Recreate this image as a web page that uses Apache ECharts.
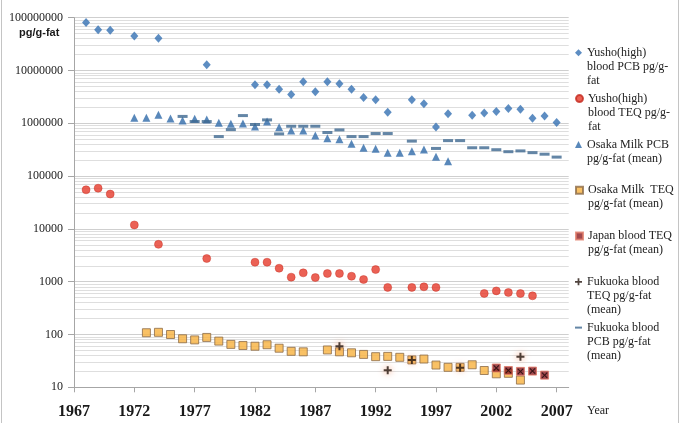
<!DOCTYPE html>
<html>
<head>
<meta charset="utf-8">
<script src="https://cdn.jsdelivr.net/npm/echarts@6/dist/echarts.min.js"></script>
<style>
  html, body { margin: 0; padding: 0; background: #fff; }
  #chart { width: 682px; height: 423px; }
</style>
</head>
<body>
<div id="chart"></div>
<script>
// x axis tick labels
var yearTicks = [1967, 1972, 1977, 1982, 1987, 1992, 1997, 2002, 2007];

// Yusho (high) blood PCB pg/g-fat
var yushoPcbYears = [1968, 1969, 1970, 1972, 1974, 1978, 1982, 1983, 1984, 1985, 1986, 1987, 1988, 1989, 1990, 1991, 1992, 1993, 1995, 1996, 1997, 1998, 2000, 2001, 2002, 2003, 2004, 2005, 2006, 2007];
var yushoPcb = [81000000, 59000000, 58000000, 45000000, 40600000, 12800000, 5400000, 5400000, 4400000, 3500000, 6100000, 3940000, 6100000, 5600000, 4400000, 3070000, 2780000, 1620000, 2800000, 2340000, 850000, 1510000, 1420000, 1570000, 1670000, 1900000, 1850000, 1250000, 1370000, 1030000];

// Yusho (high) blood TEQ pg/g-fat
var yushoTeqYears = [1968, 1969, 1970, 1972, 1974, 1978, 1982, 1983, 1984, 1985, 1986, 1987, 1988, 1989, 1990, 1991, 1992, 1993, 1995, 1996, 1997, 2001, 2002, 2003, 2004, 2005];
var yushoTeq = [55000, 59000, 45700, 11900, 5100, 2750, 2340, 2340, 1800, 1220, 1470, 1200, 1430, 1430, 1270, 1100, 1700, 780, 780, 800, 780, 600, 670, 625, 598, 540];

// Osaka milk PCB pg/g-fat (mean)
var osakaPcbYears = [1972, 1973, 1974, 1975, 1976, 1977, 1978, 1979, 1980, 1981, 1982, 1983, 1984, 1985, 1986, 1987, 1988, 1989, 1990, 1991, 1992, 1993, 1994, 1995, 1996, 1997, 1998];
var osakaPcb = [1270000, 1270000, 1450000, 1230000, 1130000, 1220000, 1180000, 1020000, 980000, 990000, 870000, 1080000, 840000, 730000, 730000, 590000, 520000, 500000, 410000, 344000, 330000, 276000, 276000, 297000, 320000, 233000, 192000];

// Osaka milk TEQ pg/g-fat (mean)
var osakaTeqYears = [1973, 1974, 1975, 1976, 1977, 1978, 1979, 1980, 1981, 1982, 1983, 1984, 1985, 1986, 1988, 1989, 1990, 1991, 1992, 1993, 1994, 1995, 1996, 1997, 1998, 1999, 2000, 2001, 2002, 2003, 2004];
var osakaTeq = [108, 110, 100, 83, 79, 88, 75, 65, 62, 60, 64, 55, 48, 47, 51, 47, 45, 42, 38, 38.5, 37, 33, 34.3, 26.4, 23.9, 23.9, 26.7, 20.8, 18, 18.4, 13.7];

// Japan blood TEQ pg/g-fat (mean)
var japanTeqYears = [2002, 2003, 2004, 2005, 2006];
var japanTeq = [23.2, 20.8, 20, 20.3, 17];

// Fukuoka blood TEQ pg/g-fat (mean)
var fukuokaTeqYears = [1989, 1993, 1995, 1999, 2004];
var fukuokaTeq = [60, 21, 33, 23.5, 38];

// Fukuoka blood PCB pg/g-fat (mean)
var fukuokaPcbYears = [1976, 1977, 1978, 1979, 1980, 1981, 1982, 1983, 1984, 1985, 1986, 1987, 1988, 1989, 1990, 1991, 1992, 1993, 1995, 1997, 1998, 1999, 2000, 2001, 2002, 2003, 2004, 2005, 2006, 2007];
var fukuokaPcb = [1350000, 1080000, 1080000, 560000, 760000, 1400000, 950000, 1160000, 630000, 880000, 880000, 880000, 670000, 750000, 560000, 560000, 640000, 640000, 460000, 334000, 470000, 470000, 344000, 344000, 316000, 290000, 300000, 278000, 260000, 229000];

// light grid lines inside each decade
var minorGrid = [];
[10, 100, 1000, 10000, 100000, 1000000, 10000000].forEach(function (d) {
  for (var m = 2; m <= 9; m++) minorGrid.push({ yAxis: m * d });
});

var names = [
  'Yusho(high) blood PCB pg/g-fat',
  'Yusho(high) blood TEQ pg/g-fat',
  'Osaka Milk PCB pg/g-fat (mean)',
  'Osaka Milk  TEQ pg/g-fat (mean)',
  'Japan blood TEQ pg/g-fat (mean)',
  'Fukuoka blood TEQ pg/g-fat (mean)',
  'Fukuoka blood PCB pg/g-fat (mean)'
];
var legendText = [
  ['Yusho(high)', 'blood PCB pg/g-', 'fat'],
  ['Yusho(high)', 'blood TEQ pg/g-', 'fat'],
  ['Osaka Milk PCB', 'pg/g-fat (mean)'],
  ['Osaka Milk  TEQ', 'pg/g-fat (mean)'],
  ['Japan blood TEQ', 'pg/g-fat (mean)'],
  ['Fukuoka blood', 'TEQ pg/g-fat', '(mean)'],
  ['Fukuoka blood', 'PCB pg/g-fat', '(mean)']
];

function pairs(xs, ys) {
  return xs.map(function (x, i) { return [x, ys[i]]; });
}

var plusPath = 'path://M3,0H5V3H8V5H5V8H3V5H0V3H3Z';
var crossPath = 'path://M0,1L1,0L4,3L7,0L8,1L5,4L8,7L7,8L4,5L1,8L0,7L3,4Z';
var serif = '"Liberation Serif", "DejaVu Serif", serif';

// one legend per entry; a spacer line keeps the marker level with the first text line
var lineH = 14;
var legendCenters = [52.5, 98.3, 144.1, 189.9, 235.7, 281.5, 327.3];
var legends = names.map(function (n, i) {
  var lines = legendText[i];
  var sp = (lines.length - 1) * lineH;
  var h = sp + lines.length * lineH;
  var nudge = lines.length === 3 ? 8.3 : 1.3;
  return {
    left: 575,
    top: legendCenters[i] - h / 2 + nudge,
    orient: 'vertical',
    padding: 0,
    itemGap: 0,
    itemWidth: 7,
    itemHeight: i === 6 ? 2 : 7,
    data: [n],
    formatter: function () {
      return '{sp| }\n' + lines.map(function (t) { return '{t|' + t + '}'; }).join('\n');
    },
    textStyle: {
      fontFamily: serif, fontSize: 12, color: '#222',
      rich: {
        sp: { lineHeight: sp, fontSize: 12, fontFamily: serif },
        t: { lineHeight: lineH, fontSize: 12, fontFamily: serif, color: '#222' }
      }
    }
  };
});

var chart = echarts.init(document.getElementById('chart'));
var option = {
  backgroundColor: '#fff',
  animation: false,
  legend: legends,
  grid: { left: 74, right: 113.3, top: 17.7, bottom: 35.7 },
  xAxis: {
    type: 'value',
    min: 1967,
    max: 2008,
    splitLine: { show: false },
    axisLine: { lineStyle: { color: '#a6a6a6' } },
    axisTick: { customValues: yearTicks, length: 5, lineStyle: { color: '#a6a6a6' } },
    axisLabel: {
      customValues: yearTicks,
      margin: 17,
      fontFamily: serif,
      fontSize: 16,
      fontWeight: 'bold',
      color: '#1a1a1a',
      formatter: function (v) { return String(v); }
    }
  },
  yAxis: {
    type: 'log',
    logBase: 10,
    min: 10,
    max: 100000000,
    axisLine: { show: true, lineStyle: { color: '#a6a6a6' } },
    axisTick: { show: true, length: 6, lineStyle: { color: '#a6a6a6' } },
    splitLine: { lineStyle: { color: '#cfcfcf' } },
    axisLabel: {
      margin: 11,
      fontFamily: serif,
      fontSize: 12,
      color: '#1a1a1a',
      formatter: function (v) { return String(Math.round(v)); }
    }
  },
  graphic: [
    { type: 'rect', silent: true, shape: { x: 1.5, y: -2, width: 677, height: 428 },
      style: { fill: 'none', stroke: '#c4c4c4', lineWidth: 1 } },
    { type: 'text', left: 19, top: 27,
      style: { text: 'pg/g-fat', font: 'bold 11px "Liberation Sans", Arial, sans-serif', fill: '#1a1a1a' } },
    { type: 'text', left: 587, top: 405,
      style: { text: 'Year', font: '12px ' + serif, fill: '#1a1a1a' } }
  ],
  series: [
    {
      name: '_grid', type: 'line', data: [], silent: true, z: 0,
      markLine: {
        silent: true, symbol: 'none', label: { show: false }, z: 0,
        lineStyle: { color: '#dedede', type: 'solid', width: 1 },
        data: minorGrid
      }
    },
    {
      name: names[0], type: 'scatter', symbol: 'diamond', symbolSize: [8, 9],
      itemStyle: { color: '#3571b3' },
      data: pairs(yushoPcbYears, yushoPcb)
    },
    {
      name: names[1], type: 'scatter', symbol: 'circle', symbolSize: 8,
      itemStyle: { color: '#e6392b', borderColor: '#c42a1f', borderWidth: 0.5 },
      data: pairs(yushoTeqYears, yushoTeq)
    },
    {
      name: names[2], type: 'scatter', symbol: 'triangle', symbolSize: 8,
      itemStyle: { color: '#2f6aa9' },
      data: pairs(osakaPcbYears, osakaPcb)
    },
    {
      name: names[3], type: 'scatter', symbol: 'rect', symbolSize: 8,
      itemStyle: { color: '#f8b13f', borderColor: '#8c6c48', borderWidth: 1 },
      data: pairs(osakaTeqYears, osakaTeq)
    },
    {
      name: names[4], type: 'scatter', symbol: 'rect', symbolSize: 8,
      itemStyle: { color: '#8a1c22', borderColor: '#e07a68', borderWidth: 1 },
      data: pairs(japanTeqYears, japanTeq)
    },
    {
      name: names[4], type: 'scatter', symbol: crossPath, symbolSize: 6,
      itemStyle: { color: '#1e0808' }, z: 3,
      data: pairs(japanTeqYears, japanTeq)
    },
    {
      name: names[5], type: 'scatter', symbol: plusPath, symbolSize: 8,
      itemStyle: { color: '#24150e', shadowColor: '#f0885a', shadowBlur: 6 }, z: 4,
      data: pairs(fukuokaTeqYears, fukuokaTeq)
    },
    {
      name: names[6], type: 'scatter', symbol: 'rect', symbolSize: [10, 3],
      itemStyle: { color: '#3d6890' },
      data: pairs(fukuokaPcbYears, fukuokaPcb)
    }
  ]
};
chart.setOption(option);
</script>
</body>
</html>
